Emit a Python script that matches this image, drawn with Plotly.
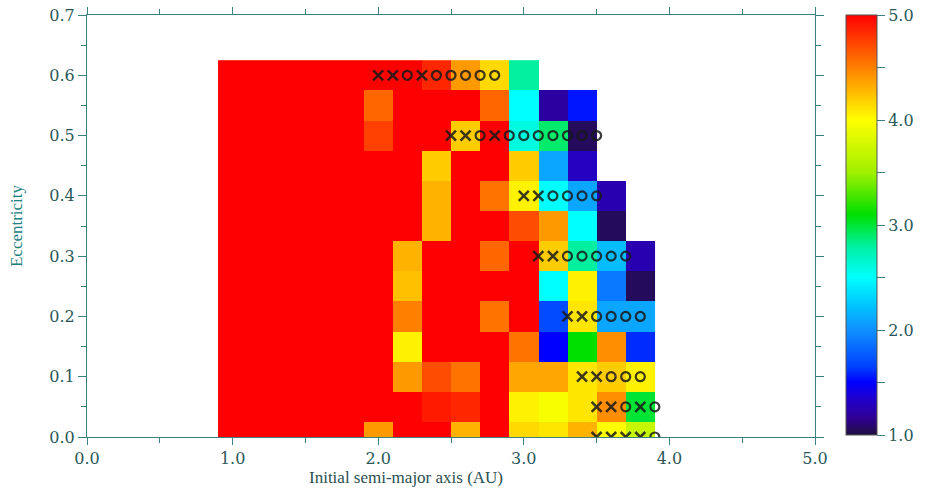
import plotly.graph_objects as go

# Column centres (initial semi-major axis, AU) and row centres (eccentricity)
semi_major = [1.0, 1.2, 1.4, 1.6, 1.8, 2.0, 2.2, 2.4, 2.6, 2.8, 3.0, 3.2, 3.4, 3.6, 3.8]
eccentricity = [0.0, 0.05, 0.1, 0.15, 0.2, 0.25, 0.3, 0.35, 0.4, 0.45, 0.5, 0.55, 0.6]

N = None
# colour value per cell, rows from e=0.0 (bottom) to e=0.6 (top)
z_e000 = [5.0, 5.0, 5.0, 5.0, 5.0, 4.4, 5.0, 5.0, 4.3, 5.0, 4.15, 4.1, 4.3, 4.0, 3.7]
z_e005 = [5.0, 5.0, 5.0, 5.0, 5.0, 5.0, 5.0, 4.9, 4.85, 5.0, 4.05, 3.95, 4.1, 4.45, 3.0]
z_e010 = [5.0, 5.0, 5.0, 5.0, 5.0, 5.0, 4.4, 4.7, 4.55, 5.0, 4.35, 4.35, 4.1, 4.2, 4.05]
z_e015 = [5.0, 5.0, 5.0, 5.0, 5.0, 5.0, 4.05, 5.0, 5.0, 5.0, 4.55, 1.5, 3.1, 4.45, 1.6]
z_e020 = [5.0, 5.0, 5.0, 5.0, 5.0, 5.0, 4.5, 5.0, 5.0, 4.55, 5.0, 1.7, 4.1, 2.1, 2.1]
z_e025 = [5.0, 5.0, 5.0, 5.0, 5.0, 5.0, 4.25, 5.0, 5.0, 5.0, 5.0, 2.5, 4.05, 1.9, 1.05]
z_e030 = [5.0, 5.0, 5.0, 5.0, 5.0, 5.0, 4.3, 5.0, 5.0, 4.6, 5.0, 4.2, 2.8, 2.2, 1.25]
z_e035 = [5.0, 5.0, 5.0, 5.0, 5.0, 5.0, 5.0, 4.3, 5.0, 5.0, 4.7, 4.4, 2.5, 1.05, N]
z_e040 = [5.0, 5.0, 5.0, 5.0, 5.0, 5.0, 5.0, 4.3, 5.0, 4.55, 4.05, 2.5, 2.1, 1.25, N]
z_e045 = [5.0, 5.0, 5.0, 5.0, 5.0, 5.0, 5.0, 4.2, 5.0, 5.0, 4.2, 2.1, 1.3, N, N]
z_e050 = [5.0, 5.0, 5.0, 5.0, 5.0, 4.75, 5.0, 5.0, 4.2, 5.0, 2.6, 2.9, 1.05, N, N]
z_e055 = [5.0, 5.0, 5.0, 5.0, 5.0, 4.6, 5.0, 5.0, 5.0, 4.6, 2.5, 1.2, 1.55, N, N]
z_e060 = [5.0, 5.0, 5.0, 5.0, 5.0, 5.0, 5.0, 4.85, 4.4, 4.15, 2.8, N, N, N, N]

# Markers: crosses and open circles
cross_a = [2.0, 2.1, 2.3, 2.5, 2.6, 2.8, 3.0, 3.1, 3.1, 3.2, 3.3, 3.4, 3.4, 3.5, 3.5, 3.6, 3.8, 3.5, 3.6, 3.7, 3.8]
cross_e = [0.6, 0.6, 0.6, 0.5, 0.5, 0.5, 0.4, 0.4, 0.3, 0.3, 0.2, 0.2, 0.1, 0.1, 0.05, 0.05, 0.05, 0.0, 0.0, 0.0, 0.0]
circle_a = [2.2, 2.4, 2.5, 2.6, 2.7, 2.8,
            2.7, 2.9, 3.0, 3.1, 3.2, 3.3, 3.4, 3.5,
            3.2, 3.3, 3.4, 3.5,
            3.3, 3.4, 3.5, 3.6, 3.7,
            3.5, 3.6, 3.7, 3.8,
            3.6, 3.7, 3.8,
            3.7, 3.9,
            3.9]
circle_e = [0.6, 0.6, 0.6, 0.6, 0.6, 0.6,
            0.5, 0.5, 0.5, 0.5, 0.5, 0.5, 0.5, 0.5,
            0.4, 0.4, 0.4, 0.4,
            0.3, 0.3, 0.3, 0.3, 0.3,
            0.2, 0.2, 0.2, 0.2,
            0.1, 0.1, 0.1,
            0.05, 0.05,
            0.0]

x_ticks = [0, 1, 2, 3, 4, 5]
x_tick_labels = ["0.0", "1.0", "2.0", "3.0", "4.0", "5.0"]
y_ticks = [0, 0.1, 0.2, 0.3, 0.4, 0.5, 0.6, 0.7]
y_tick_labels = ["0.0", "0.1", "0.2", "0.3", "0.4", "0.5", "0.6", "0.7"]
cb_ticks = [1, 1.5, 2, 2.5, 3, 3.5, 4, 4.5, 5]
cb_tick_labels = ["1.0", "", "2.0", "", "3.0", "", "4.0", "", "5.0"]

z = [z_e000, z_e005, z_e010, z_e015, z_e020, z_e025, z_e030,
     z_e035, z_e040, z_e045, z_e050, z_e055, z_e060]

colorscale = [
    [0.0, "#201040"],
    [0.0375, "#300090"],
    [0.0875, "#2000d0"],
    [0.125, "#0000ff"],
    [0.1625, "#0040ff"],
    [0.25, "#1090ff"],
    [0.3125, "#00c8ff"],
    [0.375, "#00ffff"],
    [0.45, "#00f0a0"],
    [0.525, "#00e000"],
    [0.625, "#a0f000"],
    [0.75, "#ffff00"],
    [0.875, "#ff8000"],
    [1.0, "#ff0000"],
]

axis_col = "#3a8080"
text_col = "#2a5858"
serif = "DejaVu Serif"
mark_col = "rgba(25,25,25,0.85)"

fig = go.Figure()
fig.add_trace(go.Heatmap(
    x=semi_major, y=eccentricity, z=z,
    colorscale=colorscale, zmin=1, zmax=5,
    hoverongaps=False,
    colorbar=dict(
        x=1.0426, xanchor="left", xref="paper", xpad=0, ypad=0,
        y=1.0, yanchor="top", len=0.9953, lenmode="fraction",
        thickness=31, thicknessmode="pixels",
        outlinewidth=1, outlinecolor="#555555",
        tickvals=cb_ticks, ticktext=cb_tick_labels,
        ticks="outside", ticklen=8, tickcolor=axis_col,
        ticklabeloverflow="allow",
        tickfont=dict(family=serif, size=16, color=text_col),
    ),
))

fig.add_trace(go.Scatter(
    x=cross_a, y=cross_e, mode="markers",
    marker=dict(symbol="x-thin-open", size=10, color=mark_col, line=dict(width=2.5, color=mark_col)),
    showlegend=False, hoverinfo="skip",
))
fig.add_trace(go.Scatter(
    x=circle_a, y=circle_e, mode="markers",
    marker=dict(symbol="circle-open", size=9, color=mark_col, line=dict(width=2.2, color=mark_col)),
    showlegend=False, hoverinfo="skip",
))

axis_common = dict(
    showline=True, linecolor=axis_col, linewidth=1, mirror="ticks",
    ticks="outside", tickcolor=axis_col, tickwidth=1,
    showgrid=False, zeroline=False, automargin=False,
    ticklabeloverflow="allow",
    tickfont=dict(family=serif, size=16, color=text_col),
)

fig.update_layout(
    width=926, height=489,
    margin=dict(l=87, r=111, t=15, b=52, autoexpand=False),
    paper_bgcolor="white", plot_bgcolor="white",
    showlegend=False,
    xaxis=dict(range=[0, 5], tickvals=x_ticks, ticktext=x_tick_labels, ticklen=7,
               minor=dict(ticks="outside", ticklen=5, dtick=0.5, tickcolor=axis_col, showgrid=False),
               **axis_common),
    yaxis=dict(range=[0, 0.7], tickvals=y_ticks, ticktext=y_tick_labels, ticklen=8,
               title=dict(text="Eccentricity", font=dict(family="Liberation Serif", size=17, color="#1a8080"), standoff=22),
               minor=dict(ticks="outside", ticklen=5, dtick=0.05, tickcolor=axis_col, showgrid=False),
               **axis_common),
    annotations=[dict(
        text="Initial semi-major axis (AU)", xref="paper", yref="paper",
        x=0.438, y=-0.095, xanchor="center", yanchor="middle", showarrow=False,
        font=dict(family="Liberation Serif", size=17, color="#2a5050"),
    )],
)

# remove the browser's default 8 px page margin so the figure fills the window
fig.write_html("out.html", config={"displayModeBar": False},
               post_script="document.body.style.margin='0';")
